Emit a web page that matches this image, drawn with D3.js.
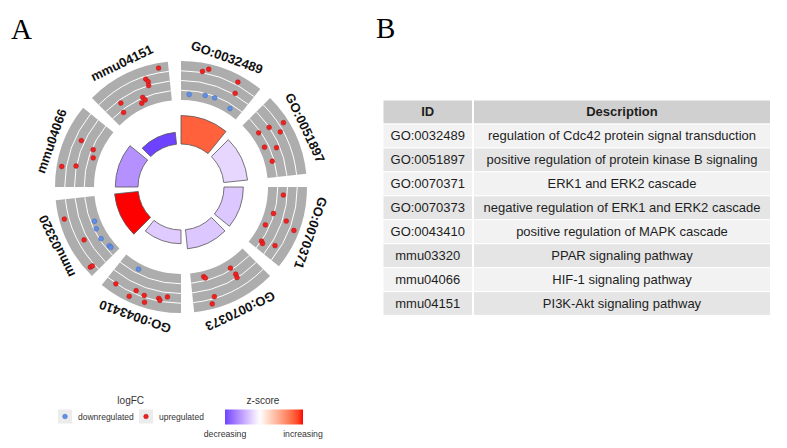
<!DOCTYPE html>
<html>
<head>
<meta charset="utf-8">
<script src="https://cdn.jsdelivr.net/npm/d3@7"></script>
<style>
  body { margin: 0; background: #fff; }
  svg { display: block; font-family: "Liberation Sans", Arial, sans-serif; }
</style>
</head>
<body>
<svg id="chart" width="787" height="448"></svg>
<script>
// terms, clockwise from the top of the circle
var terms = ['GO:0032489', 'GO:0051897', 'GO:0070371', 'GO:0070373',
             'GO:0043410', 'mmu03320', 'mmu04066', 'mmu04151'];
var descriptions = [
  'regulation of Cdc42 protein signal transduction',
  'positive regulation of protein kinase B signaling',
  'ERK1 and ERK2 cascade',
  'negative regulation of ERK1 and ERK2 cascade',
  'positive regulation of MAPK cascade',
  'PPAR signaling pathway',
  'HIF-1 signaling pathway',
  'PI3K-Akt signaling pathway'
];
var zscores = [2.35, -0.5, -0.7, -0.7, -0.65, 3.0, -1.4, -2.4];
var neglogp = [8.1, 6.8, 5.5, 5.45, 3.9, 6.75, 6.45, 3.4];

// genes of each term: place along the term (0..1) and logFC
var genePos = [
  [0.27, 0.34, 0.73, 0.77, 0.13, 0.38, 0.53, 0.82],
  [0.26, 0.28, 0.33, 0.41, 0.50, 0.58, 0.75],
  [0.115, 0.41, 0.46, 0.62, 0.54, 0.87, 0.89, 0.82],
  [0.79, 0.77, 0.35, 0.33, 0.34, 0.72, 0.77],
  [0.70, 0.87, 0.65, 0.60, 0.48, 0.45, 0.29, 0.27, 0.18],
  [0.76, 0.42, 0.09, 0.085, 0.60, 0.48, 0.31, 0.145, 0.11],
  [0.64, 0.59, 0.47, 0.25, 0.29],
  [0.88, 0.69, 0.71, 0.70, 0.56, 0.58, 0.51, 0.24, 0.19]
];
var geneLFC = [
  [2.1, 2.56, 2.34, 0.88, -1.13, -0.89, -0.81, -1.18],
  [0.91, 2.02, 3.41, 2.7, 0.7, 1.73, 0.92],
  [1.6, 1.04, 2.29, 0.72, 3.18, 1.11, 1.3, 2.3],
  [0.68, 0.84, 0.91, 1.63, 1.96, 2.7, 3.28],
  [-1.15, 2.28, 2.89, 1.75, 1.98, 2.88, 1.83, 2.09, 1.44],
  [2.25, 0.94, 2.25, 1.96, -1.21, -1.03, -0.95, -1.25, -1.28],
  [2.4, 1.15, 0.9, 3.35, 2.15],
  [3.5, 2.8, 2.5, 2.15, 1.3, 1.0, 0.85, 1.85, 1.0]
];
var tableHeader = ['ID', 'Description'];
var legendLabels = ['downregulated', 'upregulated'];
var zLabels = ['decreasing', 'increasing'];

var svg = d3.select('#chart');
var cx = 181, cy = 187;
var rad = Math.PI / 180;
var n = terms.length;
var step = 360 / n, gap = 6, offset = -3;

// angle of a place inside term i
function angleScale(i) {
  var a0 = i * step + offset + gap / 2;
  return d3.scaleLinear().domain([0, 1]).range([a0 * rad, (a0 + step - gap) * rad]);
}

var zExt = d3.extent(zscores);
var zMax = d3.max(zscores, function(d) { return Math.abs(d); });
var color = d3.scaleLinear()
  .domain([-zMax, 0, zMax])
  .range(['blue', 'white', 'red'])
  .interpolate(d3.interpolateLab);

var barR = d3.scaleLinear().domain([0, d3.max(neglogp)]).range([43, 71.5]);
var ringIn = 87, ringOut = 126;

var g = svg.append('g').attr('transform', 'translate(' + cx + ',' + cy + ')');

// outer ring: grey bands with white guide lines
var arc = d3.arc();
terms.forEach(function(t, i) {
  var a = angleScale(i);
  g.append('path')
    .attr('d', arc({ innerRadius: ringIn, outerRadius: ringOut, startAngle: a(0), endAngle: a(1) }))
    .attr('fill', '#adadad');
  [0.25, 0.5, 0.75].forEach(function(f) {
    var r = ringIn + f * (ringOut - ringIn);
    var p = d3.path();
    p.arc(0, 0, r, a(0) - Math.PI / 2, a(1) - Math.PI / 2);
    g.append('path').attr('d', p.toString())
      .attr('fill', 'none').attr('stroke', '#fff').attr('stroke-width', 1);
  });
});

// genes
terms.forEach(function(t, i) {
  var a = angleScale(i);
  var r = d3.scaleLinear().domain(d3.extent(geneLFC[i])).range([92.5, 121]);
  var genes = geneLFC[i].map(function(v, j) { return { lfc: v, pos: genePos[i][j] }; });
  g.append('g').selectAll('circle').data(genes).enter().append('circle')
    .attr('cx', function(d) { return Math.sin(a(d.pos)) * r(d.lfc); })
    .attr('cy', function(d) { return -Math.cos(a(d.pos)) * r(d.lfc); })
    .attr('r', 2.4)
    .attr('fill', function(d) { return d.lfc > 0 ? '#f02020' : '#5f8fe6'; })
    .attr('stroke', function(d) { return d.lfc > 0 ? '#b01212' : '#3d66b8'; })
    .attr('stroke-width', 0.5);
});

// inner bars: height = significance, colour = z-score
terms.forEach(function(t, i) {
  var a = angleScale(i);
  g.append('path')
    .attr('d', arc({ innerRadius: barR(0), outerRadius: barR(neglogp[i]), startAngle: a(0), endAngle: a(1) }))
    .attr('fill', color(zscores[i]))
    .attr('stroke', '#555').attr('stroke-width', 0.8);
});

// term labels, straight and rotated with the circle
terms.forEach(function(t, i) {
  var a = angleScale(i)(0.5) / rad;
  g.append('text')
    .attr('transform', 'rotate(' + a + ') translate(0,' + (-137.5) + ')')
    .attr('text-anchor', 'middle')
    .attr('dominant-baseline', 'central')
    .attr('font-size', '13px')
    .attr('font-weight', 'bold')
    .attr('fill', '#111')
    .text(t);
});

// panel letters
svg.append('text').attr('x', 11).attr('y', 38.5)
  .attr('font-family', '"Liberation Serif", "Times New Roman", serif')
  .attr('font-size', '29px').text('A');
svg.append('text').attr('x', 376).attr('y', 37.5)
  .attr('font-family', '"Liberation Serif", "Times New Roman", serif')
  .attr('font-size', '29px').text('B');

// table
var colX = [383.5, 474], colW = [88.5, 296];
var tableTop = 100.5, pitch = 23.95, rowH = 22.8;
var table = svg.append('g');
var rows = [tableHeader].concat(terms.map(function(t, i) { return [t, descriptions[i]]; }));
rows.forEach(function(row, ri) {
  var y = tableTop + ri * pitch;
  var fill = ri === 0 ? '#d0d0d0' : (ri % 2 === 1 ? '#f2f2f2' : '#e5e5e5');
  row.forEach(function(cell, ci) {
    table.append('rect')
      .attr('x', colX[ci]).attr('y', y).attr('width', colW[ci]).attr('height', rowH)
      .attr('fill', fill);
    table.append('text')
      .attr('x', colX[ci] + colW[ci] / 2).attr('y', y + rowH / 2)
      .attr('text-anchor', 'middle').attr('dominant-baseline', 'central')
      .attr('font-size', '13px')
      .attr('font-weight', ri === 0 ? 'bold' : 'normal')
      .attr('fill', '#1e1e1e')
      .text(cell);
  });
});

// legend: logFC
var leg = svg.append('g').attr('font-size', '8.5px').attr('fill', '#333');
leg.append('text').attr('x', 130.7).attr('y', 404).attr('text-anchor', 'middle')
  .attr('font-size', '10px').text('logFC');
[{ x: 58, lfc: -1 }, { x: 139, lfc: 1 }].forEach(function(k, i) {
  leg.append('rect').attr('x', k.x).attr('y', 409.5).attr('width', 14).attr('height', 14)
    .attr('fill', '#ececec');
  leg.append('circle').attr('cx', k.x + 7).attr('cy', 416.5).attr('r', 2.3)
    .attr('fill', k.lfc > 0 ? '#f02020' : '#5f8fe6')
    .attr('stroke', k.lfc > 0 ? '#b01212' : '#3d66b8').attr('stroke-width', 0.5);
  leg.append('text').attr('x', k.x + 20).attr('y', 419.5).text(legendLabels[i]);
});

// legend: z-score colour bar
var barX = d3.scaleLinear().domain(zExt).range([225, 303]);
var grad = svg.append('defs').append('linearGradient').attr('id', 'zgrad');
d3.range(0, 1.0001, 0.05).forEach(function(f) {
  var z = zExt[0] + f * (zExt[1] - zExt[0]);
  grad.append('stop').attr('offset', f).attr('stop-color', color(z));
});
leg.append('text').attr('x', 263).attr('y', 404).attr('text-anchor', 'middle')
  .attr('font-size', '10px').text('z-score');
leg.append('rect').attr('x', barX(zExt[0])).attr('y', 409.5)
  .attr('width', barX(zExt[1]) - barX(zExt[0])).attr('height', 15)
  .attr('fill', 'url(#zgrad)');
zExt.forEach(function(z, i) {
  leg.append('text').attr('x', barX(z)).attr('y', 437).attr('text-anchor', 'middle')
    .attr('font-size', '8.7px').text(zLabels[i]);
});
</script>
</body>
</html>
